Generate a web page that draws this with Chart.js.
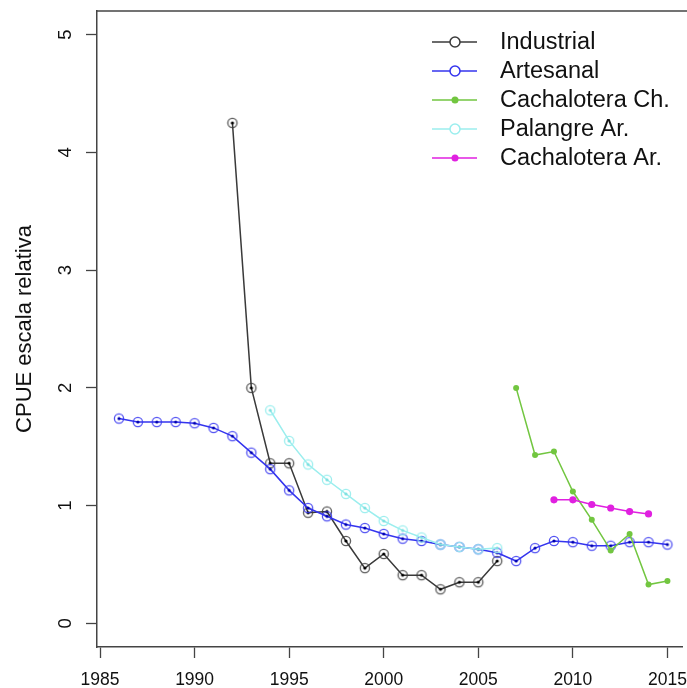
<!DOCTYPE html>
<html>
<head>
<meta charset="utf-8">
<script src="https://cdn.jsdelivr.net/npm/chart.js@4.4.1/dist/chart.umd.min.js"></script>
<style>
  html, body { margin: 0; padding: 0; background: #fff; }
  #grafico { display: block; }
</style>
</head>
<body>
<canvas id="grafico" width="687" height="688"></canvas>
<script>
// Datos (CPUE escala relativa)
const industrialYears = [1992, 1993, 1994, 1995, 1996, 1997, 1998, 1999, 2000, 2001, 2002, 2003, 2004, 2005, 2006];
const industrialValues = [4.25, 2.00, 1.36, 1.36, 0.94, 0.95, 0.70, 0.47, 0.59, 0.41, 0.41, 0.29, 0.35, 0.35, 0.53];

const artesanalYears = [1986, 1987, 1988, 1989, 1990, 1991, 1992, 1993, 1994, 1995, 1996, 1997, 1998, 1999, 2000,
  2001, 2002, 2003, 2004, 2005, 2006, 2007, 2008, 2009, 2010, 2011, 2012, 2013, 2014, 2015];
const artesanalValues = [1.74, 1.71, 1.71, 1.71, 1.70, 1.66, 1.59, 1.45, 1.31, 1.13, 0.98, 0.91, 0.84, 0.81, 0.76,
  0.72, 0.70, 0.67, 0.65, 0.63, 0.60, 0.53, 0.64, 0.70, 0.69, 0.66, 0.66, 0.69, 0.69, 0.67];

const cachChYears = [2007, 2008, 2009, 2010, 2011, 2012, 2013, 2014, 2015];
const cachChValues = [2.00, 1.43, 1.46, 1.12, 0.88, 0.62, 0.76, 0.33, 0.36];

const palangreYears = [1994, 1995, 1996, 1997, 1998, 1999, 2000, 2001, 2002, 2003, 2004, 2005, 2006];
const palangreValues = [1.81, 1.55, 1.35, 1.22, 1.10, 0.98, 0.87, 0.79, 0.73, 0.67, 0.65, 0.63, 0.64];

const cachArYears = [2009, 2010, 2011, 2012, 2013, 2014];
const cachArValues = [1.05, 1.05, 1.01, 0.98, 0.95, 0.93];

const xTicks = [1985, 1990, 1995, 2000, 2005, 2010, 2015];
const yTicks = [0, 1, 2, 3, 4, 5];

const FONT = "'Liberation Sans', Arial, Helvetica, sans-serif";
const AXIS = "#444";

// Marcador: anillo con punto central
function marcadorAnillo(anillo, punto) {
  const c = document.createElement("canvas");
  c.width = 14; c.height = 14;
  const g = c.getContext("2d");
  g.strokeStyle = anillo;
  g.lineWidth = 1.3;
  g.beginPath(); g.arc(7, 7, 4.6, 0, Math.PI * 2); g.stroke();
  g.fillStyle = punto;
  g.beginPath(); g.arc(7, 7, 1.6, 0, Math.PI * 2); g.fill();
  return c;
}

function serie(years, values) {
  return years.map((y, i) => ({ x: y, y: values[i] }));
}

const series = [
  { label: "Industrial", years: industrialYears, values: industrialValues, color: "#3a3a3a",
    ring: "rgba(60,60,60,0.85)", dot: "#000", tipo: "anillo", r: 5 },
  { label: "Artesanal", years: artesanalYears, values: artesanalValues, color: "#3434ee",
    ring: "rgba(50,50,240,0.85)", dot: "#0000b0", tipo: "anillo", r: 5 },
  { label: "Cachalotera Ch.", years: cachChYears, values: cachChValues, color: "#72c640",
    tipo: "lleno", r: 3 },
  { label: "Palangre Ar.", years: palangreYears, values: palangreValues, color: "#9beeee",
    ring: "#9beeee", dot: "#7ee0e0", tipo: "anillo", r: 5 },
  { label: "Cachalotera Ar.", years: cachArYears, values: cachArValues, color: "#e020e0",
    tipo: "lleno", r: 3.6 }
];

const datasets = series.map((s, i) => ({
  label: s.label,
  data: serie(s.years, s.values),
  borderColor: s.color,
  backgroundColor: s.color,
  borderWidth: 1.5,
  pointStyle: s.tipo === "anillo" ? marcadorAnillo(s.ring, s.dot) : "circle",
  pointRadius: s.r,
  pointBorderWidth: 0,
  pointBackgroundColor: s.color,
  tension: 0,
  order: series.length - i
}));

// Leyenda dibujada dentro del área del gráfico
const leyenda = {
  id: "leyenda",
  afterDraw(chart) {
    const ctx = chart.ctx;
    ctx.save();
    ctx.font = `23.5px ${FONT}`;
    ctx.textBaseline = "middle";
    ctx.textAlign = "left";
    series.forEach((s, i) => {
      const y = 42 + i * 29;
      ctx.strokeStyle = s.color;
      ctx.lineWidth = 1.5;
      ctx.beginPath(); ctx.moveTo(432, y); ctx.lineTo(477, y); ctx.stroke();
      ctx.beginPath();
      if (s.tipo === "anillo") {
        ctx.fillStyle = "#fff";
        ctx.arc(455, y, 5, 0, Math.PI * 2);
        ctx.fill(); ctx.stroke();
      } else {
        ctx.fillStyle = s.color;
        ctx.arc(455, y, 3.5, 0, Math.PI * 2);
        ctx.fill();
      }
      ctx.fillStyle = "#111";
      ctx.fillText(s.label, 500, y + 1);
    });
    ctx.restore();
  }
};

// Etiquetas del eje Y rotadas (estilo R) y borde superior
const ejeY = {
  id: "ejeY",
  afterDraw(chart) {
    const ctx = chart.ctx;
    const ys = chart.scales.y;
    const area = chart.chartArea;
    ctx.save();
    ctx.font = `18.5px ${FONT}`;
    ctx.fillStyle = "#111";
    ctx.textAlign = "center";
    ctx.textBaseline = "middle";
    yTicks.forEach(v => {
      const py = ys.getPixelForValue(v);
      ctx.save();
      ctx.translate(66, py);
      ctx.rotate(-Math.PI / 2);
      ctx.fillText(String(v), 0, 0);
      ctx.restore();
    });
    ctx.strokeStyle = AXIS;
    ctx.lineWidth = 1.5;
    ctx.beginPath();
    ctx.moveTo(area.left, area.top);
    ctx.lineTo(chart.width, area.top);
    ctx.stroke();
    ctx.restore();
  }
};

new Chart(document.getElementById("grafico").getContext("2d"), {
  type: "line",
  data: { datasets },
  options: {
    responsive: false,
    animation: false,
    layout: { padding: { top: 11, right: 0, bottom: 0, left: 0 } },
    plugins: {
      legend: { display: false },
      tooltip: { enabled: false }
    },
    scales: {
      x: {
        type: "linear",
        min: 1984.84,
        max: 2015.77,
        afterBuildTicks: s => { s.ticks = xTicks.map(v => ({ value: v })); },
        afterFit: s => { s.height = 41; s.paddingLeft = 0; s.paddingRight = 0; },
        grid: { display: true, drawOnChartArea: false, drawTicks: true, tickLength: 11, tickColor: AXIS, tickWidth: 1.3 },
        border: { display: true, color: AXIS, width: 1.5 },
        ticks: {
          font: { family: FONT, size: 17.5 },
          color: "#111",
          padding: 12,
          maxRotation: 0,
          callback: v => String(v)
        }
      },
      y: {
        type: "linear",
        min: -0.2,
        max: 5.2,
        afterBuildTicks: s => { s.ticks = yTicks.map(v => ({ value: v })); },
        afterFit: s => { s.width = 97; s.paddingTop = 0; s.paddingBottom = 0; },
        grid: { display: true, drawOnChartArea: false, drawTicks: true, tickLength: 11, tickColor: AXIS, tickWidth: 1.3 },
        border: { display: true, color: AXIS, width: 1.5 },
        ticks: { display: false },
        title: {
          display: true,
          text: "CPUE escala relativa",
          color: "#111",
          font: { family: FONT, size: 22, lineHeight: 1 },
          padding: { top: 14, bottom: 0 }
        }
      }
    }
  },
  plugins: [leyenda, ejeY]
});
</script>
</body>
</html>
